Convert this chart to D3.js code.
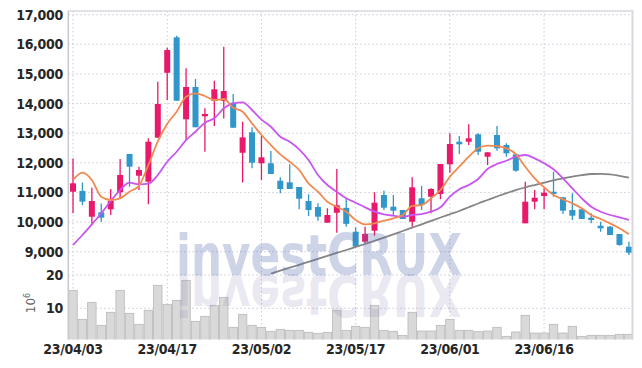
<!DOCTYPE html>
<html><head><meta charset="utf-8">
<script src="https://cdn.jsdelivr.net/npm/d3@7"></script>
<style>
html,body{margin:0;padding:0;background:#fff;}
svg{display:block;}
.lbl{font-family:"Liberation Sans Narrow","DejaVu Sans Condensed","Roboto",sans-serif;font-size:14px;font-weight:bold;fill:#262626;letter-spacing:-0.3px;}
</style></head>
<body>
<svg id="chart" width="642" height="368"></svg>
<script>
const dates = ["2023-04-03","2023-04-04","2023-04-05","2023-04-06","2023-04-07","2023-04-10","2023-04-11","2023-04-12","2023-04-13","2023-04-14",
"2023-04-17","2023-04-18","2023-04-19","2023-04-20","2023-04-21","2023-04-24","2023-04-25","2023-04-26","2023-04-27","2023-04-28",
"2023-05-02","2023-05-03","2023-05-04","2023-05-08","2023-05-09","2023-05-10","2023-05-11","2023-05-12","2023-05-15","2023-05-16",
"2023-05-17","2023-05-18","2023-05-19","2023-05-22","2023-05-23","2023-05-24","2023-05-25","2023-05-26","2023-05-30","2023-05-31",
"2023-06-01","2023-06-02","2023-06-05","2023-06-07","2023-06-08","2023-06-09","2023-06-12","2023-06-13","2023-06-14","2023-06-15",
"2023-06-16","2023-06-19","2023-06-20","2023-06-21","2023-06-22","2023-06-23","2023-06-26","2023-06-27","2023-06-28","2023-06-29"];
const open  = [11025,11050,10180,10330,10430,11005,12300,11565,11363,12850,15040,16236,13470,14560,13570,14096,14096,14030,12340,13030,
11984,11984,11396,11342,11184,10711,10509,9979,10316,10480,9675,9338,9709,10914,10519,10407,10012,10802,10856,10947,
11950,12712,12712,12962,12206,12939,12601,12287,9958,10688,10880,11025,10836,10407,10431,10148,9878,9844,9597,9169];
const high  = [12150,11340,11160,10630,11115,12130,12300,11870,12830,14740,15885,16290,15190,14830,13840,14770,15920,14320,13390,13200,
12905,12400,11511,11950,11184,10937,10633,10465,11790,10800,9824,9844,11005,11060,10914,10407,11510,11217,11140,11960,
12996,12905,13300,12996,12355,13242,12659,12321,11363,11082,11140,11700,10836,10971,10460,10296,10012,9870,9597,9337];
const low   = [10300,10565,9900,10010,10240,10800,11195,11080,10600,12840,14120,14096,12770,13200,12375,13240,13500,13185,11340,11815,
11424,11622,10970,11116,10431,10205,10046,9979,9640,9845,9170,9284,9540,10407,10239,10100,9845,10407,10296,10770,
11666,12297,12600,12264,11926,12409,12206,11700,9958,10431,10431,10856,10272,10070,10104,9958,9675,9564,9200,8890];
const close = [11308,10690,10710,10150,10720,11590,11870,11757,12713,13985,15807,14096,14560,13200,13650,14481,14424,13185,12860,12004,
12186,11622,11116,11116,10789,10407,10181,10239,10566,9940,9170,9597,10654,10485,10384,10104,11174,10576,11116,11960,
12635,12625,12827,12375,12355,12490,12321,11734,10688,10822,10991,10947,10384,10215,10104,10070,9790,9564,9226,8966];
const volume = [15.4,6.7,11.8,4.9,8.8,15.4,8.5,5.2,9.4,16.9,11.2,12.4,18.4,6.1,7.6,10.9,13.3,4.3,8.2,4.9,
4.3,3.1,3.7,3.4,3.4,2.8,2.5,2.8,9.4,3.4,4.6,4.3,10.9,3.4,3.1,1.9,8.8,3.2,3.2,4.9,
6.7,3.4,3.4,3.0,3.2,4.3,1.6,2.9,7.9,2.6,2.6,5.2,2.6,4.6,1.6,1.9,1.9,1.9,2.2,2.2];
const maShort = [11420,11666,11420,10856,10745,10802,11025,11228,11926,12720,13320,13725,14231,14346,14255,14120,14154,13860,13725,13333,
12939,12601,12287,12038,11757,11308,11025,10688,10519,10350,10070,9925,9958,10046,10127,10239,10543,10576,10802,11082,
11531,11869,12206,12490,12578,12567,12490,12297,11869,11477,11174,10914,10768,10633,10465,10239,10104,9958,9790,9587];
const maMid = [9226,9564,9925,10296,10711,11082,11329,11275,11295,11589,12038,12375,12770,13050,13354,13502,13840,14008,14042,13782,
13460,13219,12881,12712,12456,12095,11589,11251,11025,10802,10654,10498,10350,10262,10215,10181,10239,10272,10350,10498,
10856,11106,11251,11454,11790,11960,12071,12206,12264,12152,11984,11781,11477,11140,10802,10519,10350,10239,10161,10070];
const maLong = [null,null,null,null,null,null,null,null,null,null,null,null,null,null,null,null,null,null,null,null,
null,8257,8359,8460,8557,8659,8760,8858,8960,9057,9160,9260,9368,9476,9588,9699,9812,9925,10040,10154,
10264,10374,10500,10627,10745,10863,10975,11082,11170,11251,11330,11410,11475,11538,11585,11622,11625,11612,11560,11497];
const priceTicks = [9000,10000,11000,12000,13000,14000,15000,16000,17000];
const volumeTicks = [10,20];
const xTickIdx = [0,10,20,30,40,50];

const svg = d3.select("#chart");
const L = 68.3, R = 632.5, T = 11, MB = 274, VT = 271, VB = 339.5;
const idx = d3.range(dates.length);
const x = d3.scaleBand().domain(idx).range([L, 633.6]).padding(0);
const cx = i => x(i) + x.bandwidth()/2;
const y = d3.scaleLinear().domain([9000,17000]).range([251.7,14.7]);
const yv = d3.scaleLinear().domain([0.65,20]).range([VB,275]);
const parse = d3.timeParse("%Y-%m-%d"), fmt = d3.timeFormat("%y/%m/%d");

const defs = svg.append("defs");
defs.append("clipPath").attr("id","cMain").append("rect").attr("x",L).attr("y",T).attr("width",R-L).attr("height",MB-T);
defs.append("clipPath").attr("id","cVol").append("rect").attr("x",L).attr("y",VT).attr("width",R-L).attr("height",VB-VT);

const gridCol = "#c9c9dc";
svg.append("g").selectAll("line").data(priceTicks).join("line")
  .attr("x1",L).attr("x2",R).attr("y1",d=>y(d)).attr("y2",d=>y(d))
  .attr("stroke",gridCol).attr("stroke-width",1).attr("stroke-dasharray","1.5,2.5");
svg.append("g").selectAll("line").data(volumeTicks).join("line")
  .attr("x1",L).attr("x2",R).attr("y1",d=>yv(d)).attr("y2",d=>yv(d))
  .attr("stroke",gridCol).attr("stroke-width",1).attr("stroke-dasharray","1.5,2.5");
svg.append("g").selectAll("line").data(xTickIdx).join("line")
  .attr("x1",d=>cx(d)).attr("x2",d=>cx(d)).attr("y1",T).attr("y2",VB)
  .attr("stroke",gridCol).attr("stroke-width",1).attr("stroke-dasharray","1.5,2.5");

svg.append("g").attr("clip-path","url(#cVol)").selectAll("rect").data(idx).join("rect")
  .attr("x",i=>x(i)+0.5).attr("width",x.bandwidth()-1)
  .attr("y",i=>yv(volume[i])).attr("height",i=>VB+2-yv(volume[i]))
  .attr("fill","#d9d9d9").attr("stroke","#b9b9b9").attr("stroke-width",0.8);

const upC = "#e8186a", dnC = "#3196c9";
const cg = svg.append("g").attr("clip-path","url(#cMain)");
cg.selectAll("line.wick").data(idx).join("line").attr("class","wick")
  .attr("x1",cx).attr("x2",cx).attr("y1",i=>y(high[i])).attr("y2",i=>y(low[i]))
  .attr("stroke",i=>close[i]>=open[i]?upC:dnC).attr("stroke-width",1.3);
cg.selectAll("rect.body").data(idx).join("rect").attr("class","body")
  .attr("x",i=>cx(i)-3).attr("width",6)
  .attr("y",i=>y(Math.max(open[i],close[i])))
  .attr("height",i=>Math.max(1.6, Math.abs(y(open[i])-y(close[i]))))
  .attr("fill",i=>close[i]>=open[i]?upC:dnC);

const line = arr => d3.line().defined(i=>arr[i]!=null).x(cx).y(i=>y(arr[i])).curve(d3.curveMonotoneX)(idx);
cg.append("path").attr("d",line(maLong)).attr("fill","none").attr("stroke","#858585").attr("stroke-width",1.8);
cg.append("path").attr("d",line(maMid)).attr("fill","none").attr("stroke","#c956ef").attr("stroke-width",1.8);
cg.append("path").attr("d",line(maShort)).attr("fill","none").attr("stroke","#f08a50").attr("stroke-width",1.8);

// watermark (text + mirrored reflection)
const wm = svg.append("g");
wm.append("text").attr("x",176).attr("y",275).text("investCRUX")
  .attr("font-family","'DejaVu Sans',sans-serif").attr("font-weight","bold").attr("font-size",57)
  .attr("textLength",286).attr("lengthAdjust","spacingAndGlyphs")
  .attr("fill","#5a70ae").attr("fill-opacity",0.3);
wm.append("text").attr("x",176).attr("y",275).text("investCRUX")
  .attr("transform","translate(0,550) scale(1,-1)")
  .attr("font-family","'DejaVu Sans',sans-serif").attr("font-weight","bold").attr("font-size",57)
  .attr("textLength",286).attr("lengthAdjust","spacingAndGlyphs")
  .attr("fill","#7a78aa").attr("fill-opacity",0.18);

svg.append("line").attr("x1",L).attr("x2",R+1).attr("y1",T).attr("y2",T).attr("stroke","#d8d8de").attr("stroke-width",1.5);
svg.append("line").attr("x1",R).attr("x2",R).attr("y1",T).attr("y2",VB).attr("stroke","#d8d8de").attr("stroke-width",2);
svg.append("line").attr("x1",L).attr("x2",L).attr("y1",T).attr("y2",VB).attr("stroke","#c8c8d0").attr("stroke-width",1.5);

svg.append("g").selectAll("text").data(priceTicks).join("text").attr("class","lbl")
  .attr("x",63).attr("y",d=>y(d)).attr("dy","0.36em").attr("text-anchor","end").text(d3.format(","));
svg.append("g").selectAll("text").data(volumeTicks).join("text").attr("class","lbl")
  .attr("x",63).attr("y",d=>yv(d)).attr("dy","0.36em").attr("text-anchor","end").text(d=>d);
svg.append("g").selectAll("text").data(xTickIdx).join("text").attr("class","lbl")
  .attr("x",cx).attr("y",354).attr("text-anchor","middle").text(i=>fmt(parse(dates[i])));
const ul = svg.append("text").attr("transform","translate(35,303) rotate(-90)").attr("text-anchor","middle")
  .attr("font-family","'DejaVu Sans',sans-serif").attr("font-size",12).attr("fill","#666");
ul.append("tspan").text("10");
ul.append("tspan").attr("dy",-5).attr("font-size",8).text("6");
</script>
</body></html>
